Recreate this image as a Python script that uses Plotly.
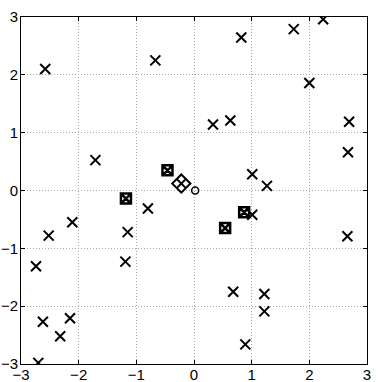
import plotly.graph_objects as go

# cross markers
cross_x = [-2.58, -0.67, -1.71, 0.82, 1.73, 2.24, 2.00, 0.33, 0.63, 2.69, 2.67, 1.01, 1.265,
           -0.80, -2.11, -2.52, -1.15, -2.74, -1.19, -2.62, -2.15, -2.32, -2.70,
           1.01, 2.66, 0.68, 1.22, 1.22, 0.89]
cross_y = [2.10, 2.25, 0.525, 2.645, 2.79, 2.96, 1.86, 1.14, 1.21, 1.19, 0.66, 0.28, 0.08,
           -0.31, -0.55, -0.78, -0.72, -1.31, -1.23, -2.27, -2.21, -2.52, -2.98,
           -0.42, -0.79, -1.75, -1.79, -2.09, -2.66]

# boxed markers
box_x = [-0.46, -1.18, 0.87, 0.54]
box_y = [0.35, -0.14, -0.376, -0.65]

# diamond and origin
diam_x = [-0.22]
diam_y = [0.12]
orig_x = [0.02]
orig_y = [0.0]

fig = go.Figure()
fig.add_trace(go.Scatter(x=cross_x, y=cross_y, mode="markers",
                         marker=dict(symbol="x-thin", size=10, line=dict(width=2, color="black"))))
fig.add_trace(go.Scatter(x=box_x, y=box_y, mode="markers",
                         marker=dict(symbol="square-x-open", size=10, color="black",
                                     line=dict(width=2.5, color="black"))))
fig.add_trace(go.Scatter(x=diam_x, y=diam_y, mode="markers",
                         marker=dict(symbol="diamond-x-open", size=14, color="black",
                                     line=dict(width=2, color="black"))))
fig.add_trace(go.Scatter(x=orig_x, y=orig_y, mode="markers",
                         marker=dict(symbol="circle-open", size=7, color="black",
                                     line=dict(width=1.5, color="black"))))

axis_style = dict(range=[-3, 3], dtick=1, showline=True, linecolor="black", linewidth=1,
                  mirror="ticks", ticks="inside", ticklen=4, tickcolor="black",
                  showgrid=True, gridcolor="#a8a8a8", griddash="1px,2px", gridwidth=1,
                  zeroline=False, automargin=False, tickfont=dict(size=15, color="black"))
fig.update_xaxes(**axis_style, ticklabelstandoff=-3)
fig.update_yaxes(**axis_style, ticklabelstandoff=-1)

fig.update_layout(width=382, height=382, showlegend=False,
                  margin=dict(l=21, r=15, t=17, b=18),
                  plot_bgcolor="white", paper_bgcolor="white",
                  font=dict(family="Liberation Sans, Arial, sans-serif", color="black"))

# page body has a default 8px margin; drop it so the figure fills the window
fig.write_html("out.html", config={"displayModeBar": False},
               post_script="document.body.style.margin='0';")
